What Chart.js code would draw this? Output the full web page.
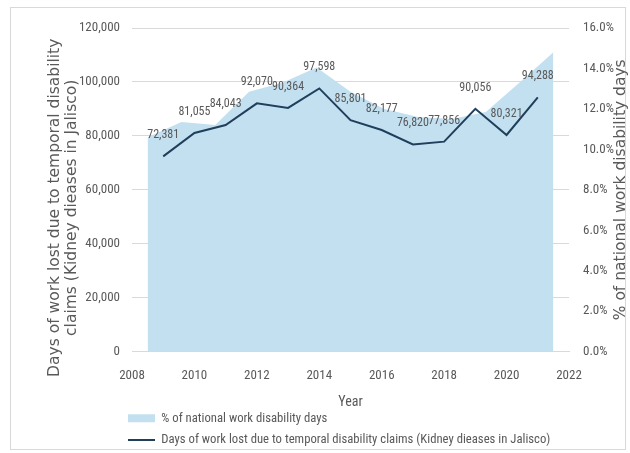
<!DOCTYPE html>
<html>
<head>
<meta charset="utf-8">
<script src="https://cdn.jsdelivr.net/npm/chart.js@4.4.1/dist/chart.umd.min.js"></script>
<style>
  html, body { margin: 0; padding: 0; background: #fff; }
  #wrap { width: 630px; height: 453px; position: relative; }
</style>
</head>
<body>
<div id="wrap"><canvas id="chartDias"></canvas></div>
<script>
// datos
const anios = [2009, 2010, 2011, 2012, 2013, 2014, 2015, 2016, 2017, 2018, 2019, 2020, 2021]
const diasPerdidos = [72381, 81055, 84043, 92070, 90364, 97598, 85801, 82177, 76820, 77856, 90056, 80321, 94288]
const pctNacional = [10.6, 11.35, 11.2, 12.85, 13.3, 14.05, 12.85, 12.0, 11.6, 11.5, 11.85, 13.3, 14.8]

const ticksX = [2008, 2010, 2012, 2014, 2016, 2018, 2020, 2022]
const ticksDias = [0, 20000, 40000, 60000, 80000, 100000, 120000]
const ticksPct = [0, 2, 4, 6, 8, 10, 12, 14, 16]

const tituloIzq = ['Days of work lost due to temporal disability', 'claims (Kidney dieases in Jalisco)']
const tituloDer = '% of national work disability days'
const serieArea = '% of national work disability days'
const serieLinea = 'Days of work lost due to temporal disability claims (Kidney dieases in Jalisco)'

const gris = '#595959'
const narrow = "'Liberation Sans Narrow', 'Roboto Condensed', 'DejaVu Sans Condensed', sans-serif"
const ancha = "'DejaVu Sans', Verdana, sans-serif"

// el area va en un eje de categorias propio (13 puntos repartidos con media banda a cada lado)
const n = anios.length
const puntosArea = pctNacional.map((v, i) => ({ x: anios[0] - 0.5 + i * n / (n - 1), y: v }))
const puntosLinea = diasPerdidos.map((v, i) => ({ x: anios[i], y: v }))

const extras = {
    id: 'extras',
    beforeDraw(chart) {
        const lg = chart.legend
        lg.left = 119
        lg.top = 403
    },
    afterDatasetsDraw(chart) {
        const ctx = chart.ctx
        const meta = chart.getDatasetMeta(1)
        ctx.save()
        ctx.font = `12px ${narrow}`
        ctx.fillStyle = gris
        ctx.textAlign = 'center'
        ctx.textBaseline = 'middle'
        meta.data.forEach((p, i) => {
            ctx.fillText(diasPerdidos[i].toLocaleString('en-US'), p.x, p.y - 21)
        })
        ctx.restore()
    },
    afterDraw(chart) {
        const { ctx, chartArea } = chart
        const cy = (chartArea.top + chartArea.bottom) / 2
        ctx.save()
        ctx.strokeStyle = '#d9d9d9'
        ctx.lineWidth = 1
        ctx.strokeRect(10.5, 7.5, 615, 442)

        ctx.fillStyle = gris
        ctx.font = `15.5px ${ancha}`
        ctx.textAlign = 'center'
        ctx.textBaseline = 'middle'
        ctx.translate(55, cy + 18)
        ctx.rotate(-Math.PI / 2)
        ctx.fillText(tituloIzq[0], 0, 0)
        ctx.fillText(tituloIzq[1], 0, 17)
        ctx.restore()

        ctx.save()
        ctx.fillStyle = gris
        ctx.font = `15.5px ${ancha}`
        ctx.textAlign = 'center'
        ctx.textBaseline = 'middle'
        ctx.translate(621, cy)
        ctx.rotate(-Math.PI / 2)
        ctx.fillText(tituloDer, 0, 0)
        ctx.restore()
    }
}

const canvas = document.getElementById('chartDias')
const context = canvas.getContext('2d')

const chartDias = new Chart(context, {
    type: 'line',
    data: {
        datasets: [
            {
                label: serieArea,
                data: puntosArea,
                yAxisID: 'y2',
                fill: 'origin',
                backgroundColor: '#c3e0f1',
                borderColor: '#c3e0f1',
                borderWidth: 0,
                pointRadius: 0,
                pointStyle: 'rect',
                tension: 0,
                order: 2
            },
            {
                label: serieLinea,
                data: puntosLinea,
                yAxisID: 'y',
                fill: false,
                borderColor: '#1f3f5b',
                backgroundColor: '#1f3f5b',
                borderWidth: 2,
                pointRadius: 0,
                pointStyle: 'line',
                tension: 0,
                order: 1
            }
        ]
    },
    options: {
        responsive: true,
        maintainAspectRatio: false,
        animation: false,
        layout: { padding: { top: 28, left: 0, right: 0, bottom: -11.4 } },
        plugins: {
            tooltip: { enabled: false },
            legend: {
                position: 'bottom',
                align: 'start',
                labels: {
                    usePointStyle: true,
                    pointStyleWidth: 27,
                    boxHeight: 8,
                    padding: 9,
                    color: gris,
                    font: { family: narrow, size: 12.7 },
                    sort: (a, b) => a.datasetIndex - b.datasetIndex
                }
            }
        },
        scales: {
            x: {
                type: 'linear',
                min: ticksX[0],
                max: ticksX[ticksX.length - 1],
                afterBuildTicks: (s) => { s.ticks = ticksX.map(v => ({ value: v })) },
                afterFit: (s) => { s.height = 59.4 },
                grid: { display: false, drawTicks: false },
                border: { display: true, color: '#d9d9d9' },
                ticks: {
                    padding: 16,
                    color: gris,
                    font: { family: narrow, size: 13 },
                    callback: (v) => String(v)
                },
                title: {
                    display: true,
                    text: 'Year',
                    color: gris,
                    font: { family: narrow, size: 14 },
                    padding: { top: 0, bottom: 0 }
                }
            },
            y: {
                position: 'left',
                min: ticksDias[0],
                max: ticksDias[ticksDias.length - 1],
                afterBuildTicks: (s) => { s.ticks = ticksDias.map(v => ({ value: v })) },
                afterFit: (s) => { s.width = 132 },
                grid: { color: '#d9d9d9', drawTicks: false },
                border: { display: false },
                ticks: {
                    padding: 12,
                    color: gris,
                    font: { family: narrow, size: 13 },
                    callback: (v) => v.toLocaleString('en-US')
                }
            },
            y2: {
                position: 'right',
                min: ticksPct[0],
                max: ticksPct[ticksPct.length - 1],
                afterBuildTicks: (s) => { s.ticks = ticksPct.map(v => ({ value: v })) },
                afterFit: (s) => { s.width = 61 },
                grid: { display: false, drawTicks: false },
                border: { display: false },
                ticks: {
                    padding: 14,
                    color: gris,
                    font: { family: narrow, size: 13 },
                    callback: (v) => v.toFixed(1) + '%'
                }
            }
        }
    },
    plugins: [extras]
})
</script>
</body>
</html>
